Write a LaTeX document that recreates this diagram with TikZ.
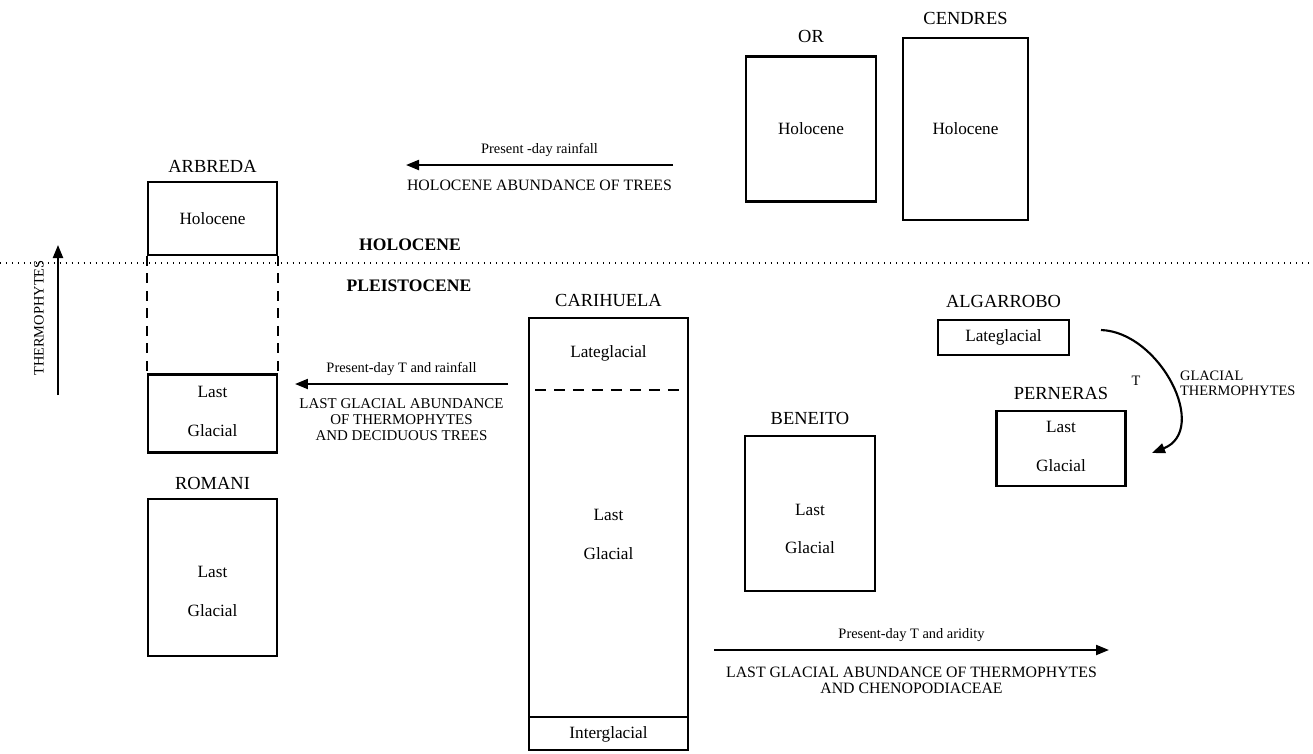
\documentclass[tikz,border=0pt]{standalone}
\usepackage{fontspec}
\setmainfont{Liberation Serif}
\usetikzlibrary{arrows.meta, positioning}

\begin{document}
\begin{tikzpicture}[
    x=0.02cm, y=-0.02cm,
    periodBox/.style={draw, line width=1.2pt, inner sep=0pt, font=\fontsize{9.8}{11.8}\selectfont},
    siteName/.style={font=\fontsize{10.5}{12.6}\selectfont, inner sep=1pt},
    boxText/.style={font=\fontsize{9.8}{11.8}\selectfont, align=center},
    smallText/.style={font=\fontsize{8.2}{9.8}\selectfont, inner sep=1pt},
    capsText/.style={font=\fontsize{8.5}{9.1}\selectfont, align=center, inner sep=1pt},
    epochText/.style={font=\fontsize{10}{12}\bfseries\selectfont},
    arrLine/.style={-{Triangle[length=2.6mm,width=2mm]}, line width=1.2pt},
    divLine/.style={dash pattern=on 0.2cm off 0.15cm, line width=1.2pt},
    dotLine/.style={dash pattern=on 0.5pt off 2.9pt, line width=0.7pt}
]
\useasboundingbox (0,0) rectangle (1313,754);

% Holocene / Pleistocene boundary
\draw[dotLine] (0,263) -- (1313,263);
\node[epochText] (holoLbl) at (410,245) {HOLOCENE};
\node[epochText] (pleiLbl) at (409,286) {PLEISTOCENE};

% Thermophytes axis
\coordinate (thermoBot) at (58,395);
\coordinate (thermoTop) at (58,245);
\draw[arrLine] (thermoBot) -- (thermoTop);
\node[smallText, rotate=90] (thermoLbl) at (39,318) {THERMOPHYTES};

% Arbreda and Romani
\node[periodBox, minimum width=2.58cm, minimum height=1.45cm] (arbHolo) at (212.5,218.5) {Holocene};
\node[siteName, above=4pt of arbHolo] (arbName) {ARBREDA};
\node[periodBox, minimum width=2.58cm, minimum height=1.56cm] (arbLast) at (212.5,413.5) {};
\node[boxText] (arbLastTxt) at (212.5,411.5) {Last\\[10pt]Glacial};
\draw[divLine] (arbHolo.south west) -- (arbLast.north west);
\draw[divLine] (arbHolo.south east) -- (arbLast.north east);

\node[periodBox, minimum width=2.58cm, minimum height=3.14cm] (romLast) at (212.5,577.5) {};
\node[siteName, above=3.5pt of romLast] (romName) {ROMANI};
\node[boxText] (romLastTxt) at (212.5,591.5) {Last\\[10pt]Glacial};

% Or and Cendres
\node[periodBox, minimum width=2.6cm, minimum height=2.9cm] (orHolo) at (811,129) {Holocene};
\node[siteName, above=6pt of orHolo] (orName) {OR};
\node[periodBox, minimum width=2.5cm, minimum height=3.64cm] (cenHolo) at (965.5,129) {Holocene};
\node[siteName, above=6pt of cenHolo] (cenName) {CENDRES};

% Carihuela
\node[periodBox, minimum width=3.18cm, minimum height=8.64cm] (car) at (608.5,534) {};
\node[siteName, above=4.5pt of car] (carName) {CARIHUELA};
\node[boxText] (carLate) at (608.5,353) {Lateglacial};
\draw[divLine, dash pattern=on 0.22cm off 0.16cm] (535,390) -- (682,390);
\node[boxText] (carLastTxt) at (608.5,534.5) {Last\\[10pt]Glacial};
\draw[line width=1.2pt] (529,717) -- (688,717);
\node[boxText] (carInter) at (608.5,734) {Interglacial};

% Beneito, Algarrobo and Perneras
\node[periodBox, minimum width=2.6cm, minimum height=3.1cm] (benLast) at (810,513.5) {};
\node[siteName, above=4.5pt of benLast] (benName) {BENEITO};
\node[boxText] (benLastTxt) at (810,529) {Last\\[10pt]Glacial};

\node[periodBox, minimum width=2.62cm, minimum height=0.7cm] (algLate) at (1003.5,337.5) {Lateglacial};
\node[siteName, above=5.5pt of algLate] (algName) {ALGARROBO};

\node[periodBox, minimum width=2.58cm, minimum height=1.5cm] (perLast) at (1061,448.5) {};
\node[siteName, above=4.5pt of perLast] (perName) {PERNERAS};
\node[boxText] (perLastTxt) at (1061,446.5) {Last\\[10pt]Glacial};

\coordinate (glacStart) at (1101,330);
\coordinate (glacEnd) at (1152,453);
\draw[arrLine] (glacStart) .. controls (1160,332) and (1210,430) .. (glacEnd);
\node[smallText] (tLbl) at (1136,381) {T};
\node[smallText, align=left, anchor=west, font=\fontsize{8.2}{8.6}\selectfont] (glacLbl) at (1178,383) {GLACIAL\\THERMOPHYTES};

% Climate arrows
\coordinate (rainStart) at (673,165);
\coordinate (rainEnd) at (406,165);
\draw[arrLine] (rainStart) -- (rainEnd)
    node[midway, smallText, above=3pt] (rainTop) {Present -day rainfall}
    node[midway, capsText, font=\fontsize{9}{9.6}\selectfont, below=7pt] (rainBot) {HOLOCENE ABUNDANCE OF TREES};

\coordinate (tRainStart) at (508,384);
\coordinate (tRainEnd) at (295,384);
\draw[arrLine] (tRainStart) -- (tRainEnd)
    node[midway, smallText, above=3pt] (tRainTop) {Present-day T and rainfall}
    node[midway, capsText, below=6.5pt] (tRainBot) {LAST GLACIAL ABUNDANCE\\OF THERMOPHYTES\\AND DECIDUOUS TREES};

\coordinate (aridStart) at (714,650);
\coordinate (aridEnd) at (1109,650);
\draw[arrLine] (aridStart) -- (aridEnd)
    node[midway, smallText, above=3pt] (aridTop) {Present-day T and aridity}
    node[midway, capsText, font=\fontsize{9}{9.1}\selectfont, below=8pt] (aridBot) {LAST GLACIAL ABUNDANCE OF THERMOPHYTES\\AND CHENOPODIACEAE};

\end{tikzpicture}
\end{document}
